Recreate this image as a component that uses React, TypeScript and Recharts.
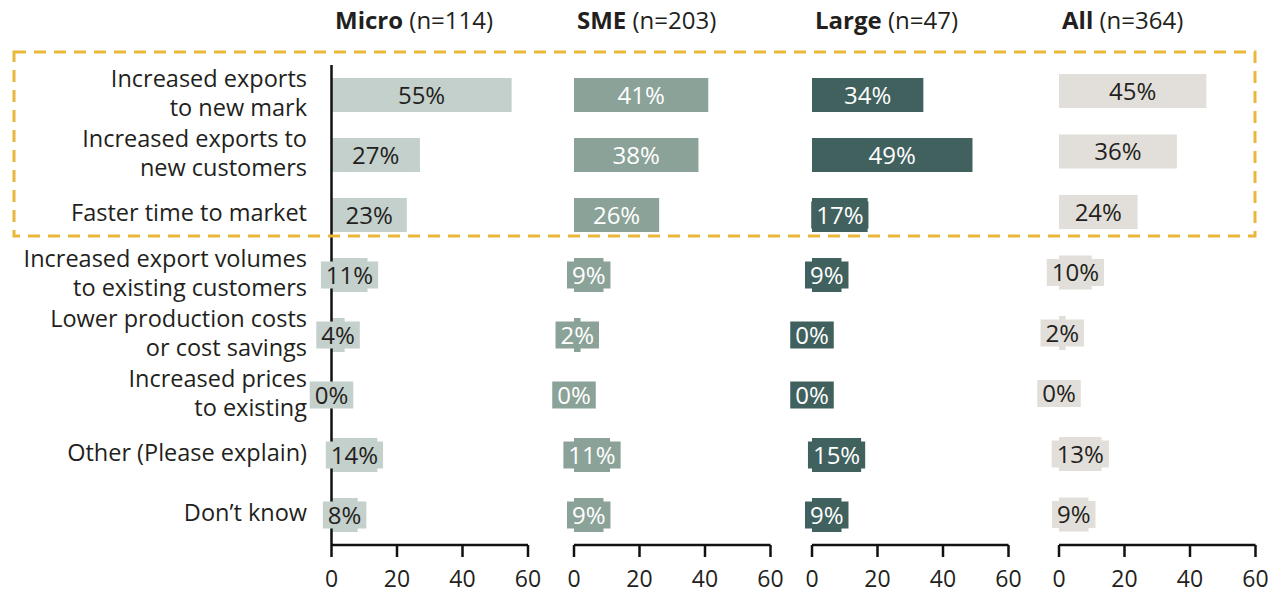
import React from "react";
import { BarChart, Bar, XAxis, YAxis, LabelList } from "recharts";

const categories = [
  "Increased exports\nto new mark",
  "Increased exports to\nnew customers",
  "Faster time to market",
  "Increased export volumes\nto existing customers",
  "Lower production costs\nor cost savings",
  "Increased prices\nto existing",
  "Other (Please explain)",
  "Don\u2019t know",
];

const microValues = [55, 27, 23, 11, 4, 0, 14, 8];
const smeValues = [41, 38, 26, 9, 2, 0, 11, 9];
const largeValues = [34, 49, 17, 9, 0, 0, 15, 9];
const allValues = [45, 36, 24, 10, 2, 0, 13, 9];

const panelTitles = ["Micro", "SME", "Large", "All"];
const panelCounts = ["(n=114)", "(n=203)", "(n=47)", "(n=364)"];
const xTicks = [0, 20, 40, 60];

const FONT = "'Open Sans', sans-serif";
const TEXT_DARK = "#231f20";

const panels = [
  { key: "micro", values: microValues, fill: "#c4d0cb", text: TEXT_DARK, axisX: 331.5, top: 65 },
  { key: "sme", values: smeValues, fill: "#8ba298", text: "#ffffff", axisX: 573.5, top: 65 },
  { key: "large", values: largeValues, fill: "#40615e", text: "#ffffff", axisX: 811.5, top: 65 },
  { key: "all", values: allValues, fill: "#e2dfda", text: TEXT_DARK, axisX: 1058.5, top: 61 },
];

const PLOT_W = 196.5;
const PLOT_BOTTOM = 545;
const H = 597;
const LEFT_PAD = 40;
const RIGHT_PAD = 22;
const VALUE_FS = 24;

const makeLabel = (fill: string, color: string) => (props: any) => {
  const vb = props.viewBox || {};
  const x = props.x ?? vb.x;
  const y = props.y ?? vb.y;
  const w = props.width ?? vb.width ?? 0;
  const h = props.height ?? vb.height ?? 0;
  const v = props.value;
  const s = `${v}%`;
  const digits = String(v).length;
  const tw = (digits * 0.572 + 0.824) * VALUE_FS;
  const bw = tw + 10;
  const cx = x + (v === 0 ? 0 : w / 2);
  const cy = y + h / 2;
  return (
    <g>
      <rect x={cx - bw / 2} y={cy - 13.5} width={bw} height={27} fill={fill} />
      <text
        x={cx}
        y={cy}
        dy="0.36em"
        textAnchor="middle"
        fill={color}
        fontFamily={FONT}
        fontSize={VALUE_FS}
      >
        {s}
      </text>
    </g>
  );
};

const CategoryTick = (props: any) => {
  const { y, payload } = props;
  const lines = String(payload.value).split("\n");
  const lh = 28.5;
  const start = y - 2 - ((lines.length - 1) * lh) / 2;
  return (
    <text
      x={307}
      y={start}
      textAnchor="end"
      fill={TEXT_DARK}
      fontFamily={FONT}
      fontSize={23.5}
    >
      {lines.map((l, i) => (
        <tspan key={i} x={307} y={start + i * lh} dy="0.36em">
          {l}
        </tspan>
      ))}
    </text>
  );
};

export default function App() {
  return (
    <div
      style={{
        position: "absolute",
        left: 0,
        top: 0,
        width: 1280,
        height: H,
        overflow: "hidden",
        background: "#fff",
      }}
    >
      {panels.map((p, idx) => {
        const data = categories.map((c, i) => ({ cat: c, value: p.values[i] }));
        const first = idx === 0;
        const yAxisW = first ? p.axisX : 0;
        const leftPad = first ? 0 : LEFT_PAD;
        const chartLeft = first ? 0 : p.axisX - LEFT_PAD;
        const width = leftPad + yAxisW + PLOT_W + RIGHT_PAD;
        return (
          <div
            key={p.key}
            style={{ position: "absolute", left: chartLeft, top: 0, width, height: H }}
          >
            <BarChart
              width={width}
              height={H}
              data={data}
              layout="vertical"
              margin={{ top: p.top, right: RIGHT_PAD, bottom: 0, left: leftPad }}
              barSize={34}
            >
              <XAxis
                type="number"
                domain={[0, 60]}
                ticks={xTicks}
                interval={0}
                height={H - PLOT_BOTTOM}
                axisLine={{ stroke: "#111", strokeWidth: 2.5 }}
                tickLine={{ stroke: "#111", strokeWidth: 2.5 }}
                tickSize={12}
                tickMargin={14}
                tick={{ fill: TEXT_DARK, fontFamily: FONT, fontSize: 23 }}
              />
              <YAxis
                type="category"
                dataKey="cat"
                width={yAxisW}
                axisLine={{ stroke: "#111", strokeWidth: 2.5 }}
                tickLine={false}
                tick={first ? <CategoryTick /> : false}
                interval={0}
              />
              <Bar
                dataKey="value"
                fill={p.fill}
                minPointSize={0.01}
                isAnimationActive={false}
              >
                <LabelList dataKey="value" content={makeLabel(p.fill, p.text)} />
              </Bar>
            </BarChart>
          </div>
        );
      })}
      <svg
        width={1280}
        height={H}
        style={{ position: "absolute", left: 0, top: 0, pointerEvents: "none" }}
      >
        {panels.map((p, i) => (
          <text
            key={p.key}
            x={p.axisX + 3.5}
            y={29}
            fill={TEXT_DARK}
            fontFamily={FONT}
            fontSize={24}
          >
            <tspan fontWeight="bold">{panelTitles[i]}</tspan>
            <tspan> {panelCounts[i]}</tspan>
          </text>
        ))}
        <rect
          x={14}
          y={52}
          width={1241}
          height={184}
          fill="none"
          stroke="#e9b73a"
          strokeWidth={3}
          strokeDasharray="12 8"
        />
      </svg>
    </div>
  );
}
